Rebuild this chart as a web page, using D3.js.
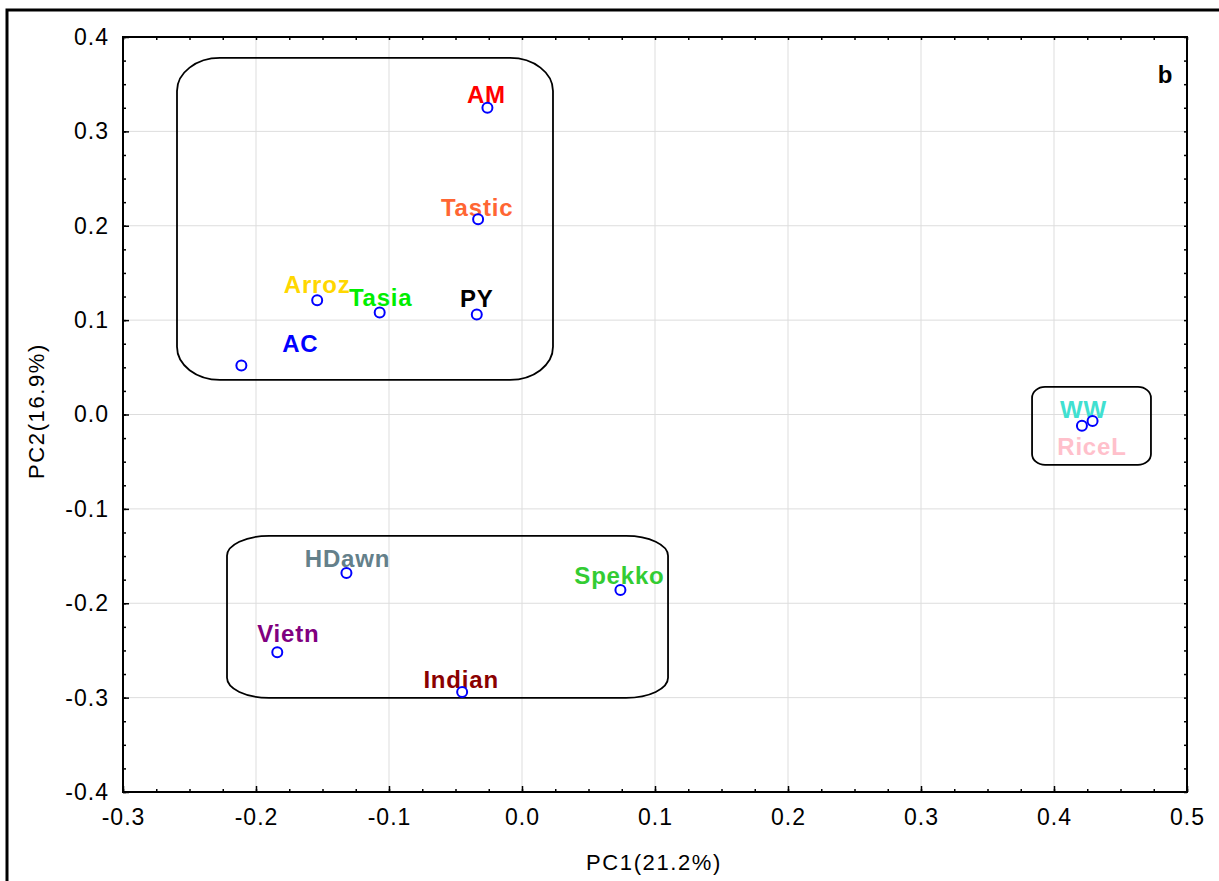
<!DOCTYPE html>
<html>
<head>
<meta charset="utf-8">
<script src="https://cdnjs.cloudflare.com/ajax/libs/d3/7.8.5/d3.min.js"></script>
<style>
    body { margin: 0; background: #fff; }
    text { font-family: "Liberation Sans", Arial, sans-serif; }
</style>
</head>
<body>
<script>
// PCA scores
var names = ["AM", "Tastic", "Arroz", "Tasia", "PY", "AC", "WW", "RiceL", "HDawn", "Spekko", "Vietn", "Indian"]
var pc1 = [-0.026, -0.033, -0.154, -0.107, -0.034, -0.211, 0.429, 0.421, -0.132, 0.074, -0.184, -0.045]
var pc2 = [0.325, 0.207, 0.121, 0.108, 0.106, 0.052, -0.007, -0.012, -0.168, -0.186, -0.252, -0.294]
var colors = ["#ff0000", "#ff6633", "#ffd700", "#00ee00", "#000000", "#0000ff", "#40e0d0", "#ffc0cb", "#64808a", "#33cc33", "#800080", "#8b0000"]

var xTicks = [-0.3, -0.2, -0.1, 0.0, 0.1, 0.2, 0.3, 0.4, 0.5]
var yTicks = [-0.4, -0.3, -0.2, -0.1, 0.0, 0.1, 0.2, 0.3, 0.4]

// group outlines in data units: [x0, x1, y0, y1]
var groups = [
    [-0.2594, 0.0233, 0.0367, 0.3778],
    [0.3835, 0.4729, -0.0534, 0.0292],
    [-0.2218, 0.1098, -0.3002, -0.1286]
]
var groupCorners = [[43, 33], [13, 11], [42, 20]]

// label nudges in px (dx to text centre, dy to baseline)
var labelShift = {
    AM: [-1, -5], Tastic: [-1, -3], Arroz: [0, -7], Tasia: [1, -7], PY: [0, -7], AC: [59, -13],
    WW: [-9, -3], RiceL: [10, 29], HDawn: [1, -6], Spekko: [-1, -6], Vietn: [11, -10], Indian: [-1, -4]
}

var plotL = 123, plotR = 1187, plotT = 37, plotB = 792

var svg = d3.select("body").append("svg")
    .attr("width", 1219)
    .attr("height", 881)

var x = d3.scaleLinear().domain([-0.3, 0.5]).range([plotL, plotR])
var y = d3.scaleLinear().domain([-0.4, 0.4]).range([plotB, plotT])

// outer frame
svg.append("rect")
    .attr("x", 7).attr("y", 10)
    .attr("width", 1400).attr("height", 1000)
    .attr("fill", "none").attr("stroke", "#000").attr("stroke-width", 3)

// grid
svg.selectAll(".gx").data(xTicks).enter().append("line")
    .attr("x1", d => x(d)).attr("x2", d => x(d))
    .attr("y1", plotT).attr("y2", plotB)
    .attr("stroke", "#dddddd").attr("stroke-width", 1)
svg.selectAll(".gy").data(yTicks).enter().append("line")
    .attr("x1", plotL).attr("x2", plotR)
    .attr("y1", d => y(d)).attr("y2", d => y(d))
    .attr("stroke", "#dddddd").attr("stroke-width", 1)

var xMinor = d3.range(0, 33).map(i => -0.3 + i * 0.025)
var yMinor = d3.range(0, 33).map(i => -0.4 + i * 0.025)

function styleAxis(g) {
    g.select(".domain").remove()
    g.selectAll("line").attr("stroke", "#000").attr("stroke-width", 1.5)
    g.selectAll("text").attr("font-size", 23).attr("letter-spacing", "1px")
        .attr("fill", "#000").attr("font-family", "'Liberation Sans', Arial, sans-serif")
}

var fmt = d => d3.format(".1f")(d).replace("\u2212", "-")

// minor ticks on all four sides
svg.append("g").attr("transform", "translate(0," + plotB + ")")
    .call(d3.axisBottom(x).tickValues(xMinor).tickSize(-3).tickFormat("")).call(styleAxis)
svg.append("g").attr("transform", "translate(0," + plotT + ")")
    .call(d3.axisTop(x).tickValues(xMinor).tickSize(-3).tickFormat("")).call(styleAxis)
svg.append("g").attr("transform", "translate(" + plotL + ",0)")
    .call(d3.axisLeft(y).tickValues(yMinor).tickSize(-3).tickFormat("")).call(styleAxis)
svg.append("g").attr("transform", "translate(" + plotR + ",0)")
    .call(d3.axisRight(y).tickValues(yMinor).tickSize(-3).tickFormat("")).call(styleAxis)

// major ticks + labels
svg.append("g").attr("transform", "translate(0," + plotB + ")")
    .call(d3.axisBottom(x).tickValues(xTicks).tickSize(-6).tickPadding(17).tickFormat(fmt)).call(styleAxis)
svg.append("g").attr("transform", "translate(" + plotL + ",0)")
    .call(d3.axisLeft(y).tickValues(yTicks).tickSize(-6).tickPadding(14).tickFormat(fmt)).call(styleAxis)

// plot border
svg.append("rect")
    .attr("x", plotL).attr("y", plotT)
    .attr("width", plotR - plotL).attr("height", plotB - plotT)
    .attr("fill", "none").attr("stroke", "#000").attr("stroke-width", 2)

// group boxes
svg.selectAll(".grp").data(groups).enter().append("rect")
    .attr("x", d => x(d[0]))
    .attr("y", d => y(d[3]))
    .attr("width", d => x(d[1]) - x(d[0]))
    .attr("height", d => y(d[2]) - y(d[3]))
    .attr("rx", (d, i) => groupCorners[i][0])
    .attr("ry", (d, i) => groupCorners[i][1])
    .attr("fill", "none").attr("stroke", "#000").attr("stroke-width", 1.8)

// labels
svg.selectAll(".lbl").data(names).enter().append("text")
    .attr("x", (d, i) => x(pc1[i]) + labelShift[d][0])
    .attr("y", (d, i) => y(pc2[i]) + labelShift[d][1])
    .attr("text-anchor", "middle")
    .attr("font-size", 24)
    .attr("font-weight", "bold")
    .attr("letter-spacing", "0.8px")
    .attr("fill", (d, i) => colors[i])
    .text(d => d)

// points
svg.selectAll(".pt").data(names).enter().append("circle")
    .attr("cx", (d, i) => x(pc1[i]))
    .attr("cy", (d, i) => y(pc2[i]))
    .attr("r", 5)
    .attr("fill", "#fff")
    .attr("stroke", "#0000ff")
    .attr("stroke-width", 2)

// panel letter
svg.append("text")
    .attr("x", 1165).attr("y", 83)
    .attr("text-anchor", "middle")
    .attr("font-size", 24).attr("font-weight", "bold")
    .text("b")

// axis titles
svg.append("text")
    .attr("x", 654).attr("y", 870)
    .attr("text-anchor", "middle")
    .attr("font-size", 22).attr("letter-spacing", "1.6px")
    .text("PC1(21.2%)")

svg.append("text")
    .attr("transform", "translate(44,411) rotate(-90)")
    .attr("text-anchor", "middle")
    .attr("font-size", 22).attr("letter-spacing", "1.6px")
    .text("PC2(16.9%)")
</script>
</body>
</html>
